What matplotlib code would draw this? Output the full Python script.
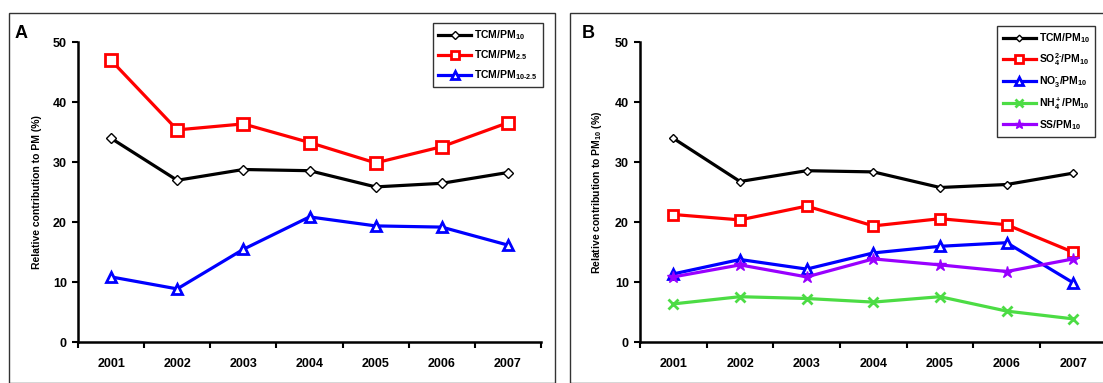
import matplotlib
matplotlib.use('Agg')
import matplotlib.pyplot as plt
from matplotlib.patches import Rectangle

plt.rcParams['font.family'] = ['Liberation Sans', 'DejaVu Sans']
plt.rcParams['font.weight'] = 'bold'
plt.rcParams['axes.labelweight'] = 'bold'
plt.rcParams['mathtext.fontset'] = 'custom'
plt.rcParams['mathtext.rm'] = 'Liberation Sans:bold'
plt.rcParams['mathtext.it'] = 'Liberation Sans:bold'
plt.rcParams['mathtext.bf'] = 'Liberation Sans:bold'
plt.rcParams['mathtext.default'] = 'rm'

# datos
years = ['2001', '2002', '2003', '2004', '2005', '2006', '2007']

# panel A
tcm_pm10_a = [34.0, 27.0, 28.8, 28.6, 25.9, 26.5, 28.3]
tcm_pm25 = [47.0, 35.4, 36.4, 33.3, 29.9, 32.6, 36.6]
tcm_pm10_25 = [10.9, 8.9, 15.5, 20.9, 19.4, 19.2, 16.2]

# panel B
tcm_pm10_b = [34.0, 26.8, 28.6, 28.4, 25.8, 26.3, 28.2]
so4_pm10 = [21.3, 20.4, 22.7, 19.4, 20.6, 19.6, 15.0]
no3_pm10 = [11.4, 13.8, 12.2, 14.9, 16.0, 16.6, 9.9]
nh4_pm10 = [6.4, 7.6, 7.3, 6.7, 7.6, 5.2, 3.9]
ss_pm10 = [10.9, 12.9, 10.9, 13.9, 12.9, 11.8, 13.9]

W, H = 1103, 383
fig = plt.figure(figsize=(W / 100, H / 100), dpi=100)

'''marcos de cada panel'''
fig.patches.append(Rectangle((9 / W, 0), (555 - 9) / W, (H - 13) / H,
                             transform=fig.transFigure, fill=False,
                             edgecolor='#333333', lw=1))
fig.patches.append(Rectangle((570 / W, 0), 0.6, (H - 13) / H,
                             transform=fig.transFigure, fill=False,
                             edgecolor='#333333', lw=1))

x = list(range(1, len(years) + 1))


def setup(ax, ylabel):
    ax.set_xlim(0.5, 7.5)
    ax.set_ylim(0, 50)
    ax.set_yticks([0, 10, 20, 30, 40, 50])
    ax.set_xticks([i + 0.5 for i in range(0, 8)])
    ax.set_xticklabels([])
    ax.set_xticks(x, minor=True)
    ax.set_xticklabels(years, minor=True)
    ax.tick_params(axis='x', which='minor', length=0, pad=11, labelsize=9)
    ax.tick_params(axis='x', which='major', direction='out', length=4, width=1.5)
    ax.tick_params(axis='y', direction='out', length=4, width=1.5, labelsize=9, pad=4)
    for s in ['top', 'right']:
        ax.spines[s].set_visible(False)
    for s in ['left', 'bottom']:
        ax.spines[s].set_linewidth(1.8)
    ax.set_ylabel(ylabel, fontsize=7.5, fontweight='bold', labelpad=8)
    for t in ax.get_yticklabels() + ax.get_xticklabels(minor=True):
        t.set_fontweight('bold')


def leyenda(ax, x_der, y_sup):
    leg = ax.legend(loc='upper right', bbox_to_anchor=(x_der / W, 1 - y_sup / H),
                    bbox_transform=fig.transFigure, fontsize=7.5, frameon=True,
                    fancybox=False, edgecolor='black', handlelength=3.2,
                    borderpad=0.5, labelspacing=0.6, handletextpad=0.3,
                    borderaxespad=0, markerscale=0.75)
    leg.get_frame().set_linewidth(1)
    return leg


'''panel A'''
axA = fig.add_axes([78 / W, (H - 342.3) / H, (541 - 78) / W, 300 / H])
axA.plot(x, tcm_pm10_a, color='black', lw=2.3, marker='D', ms=5,
         mfc='white', mec='black', mew=1, label=r'TCM/PM$_{10}$')
axA.plot(x, tcm_pm25, color='#ff0000', lw=2.3, marker='s', ms=8,
         mfc='white', mec='#ff0000', mew=2, label=r'TCM/PM$_{2.5}$')
axA.plot(x, tcm_pm10_25, color='#0000ff', lw=2.3, marker='^', ms=7,
         mfc='white', mec='#0000ff', mew=2, label=r'TCM/PM$_{10\text{-}2.5}$')
setup(axA, 'Relative contribution to PM (%)')
leyenda(axA, 543, 23)
fig.text(15 / W, 1 - 38 / H, 'A', fontsize=13, fontweight='bold')

'''panel B'''
axB = fig.add_axes([640 / W, (H - 342.3) / H, 466.7 / W, 300 / H])
axB.plot(x, tcm_pm10_b, color='black', lw=2.3, marker='D', ms=4.5,
         mfc='white', mec='black', mew=1, label=r'TCM/PM$_{10}$')
axB.plot(x, so4_pm10, color='#ff0000', lw=2.3, marker='s', ms=7,
         mfc='white', mec='#ff0000', mew=2, label=r'SO$_4^{2\text{-}}$/PM$_{10}$')
axB.plot(x, no3_pm10, color='#0000ff', lw=2.3, marker='^', ms=7,
         mfc='white', mec='#0000ff', mew=2, label=r'NO$_3^{\text{-}}$/PM$_{10}$')
axB.plot(x, nh4_pm10, color='#4cdc44', lw=2.3, marker='x', ms=7,
         mec='#4cdc44', mew=2, label=r'NH$_4^+$/PM$_{10}$')
axB.plot(x, ss_pm10, color='#9900ff', lw=2.3, marker='*', ms=9,
         mec='#9900ff', mfc='#9900ff', label=r'SS/PM$_{10}$')
setup(axB, r'Relative contribution to PM$_{10}$ (%)')
leyenda(axB, 1095, 26)
fig.text(582 / W, 1 - 38 / H, 'B', fontsize=13, fontweight='bold')

plt.savefig('out.png', dpi=100)
